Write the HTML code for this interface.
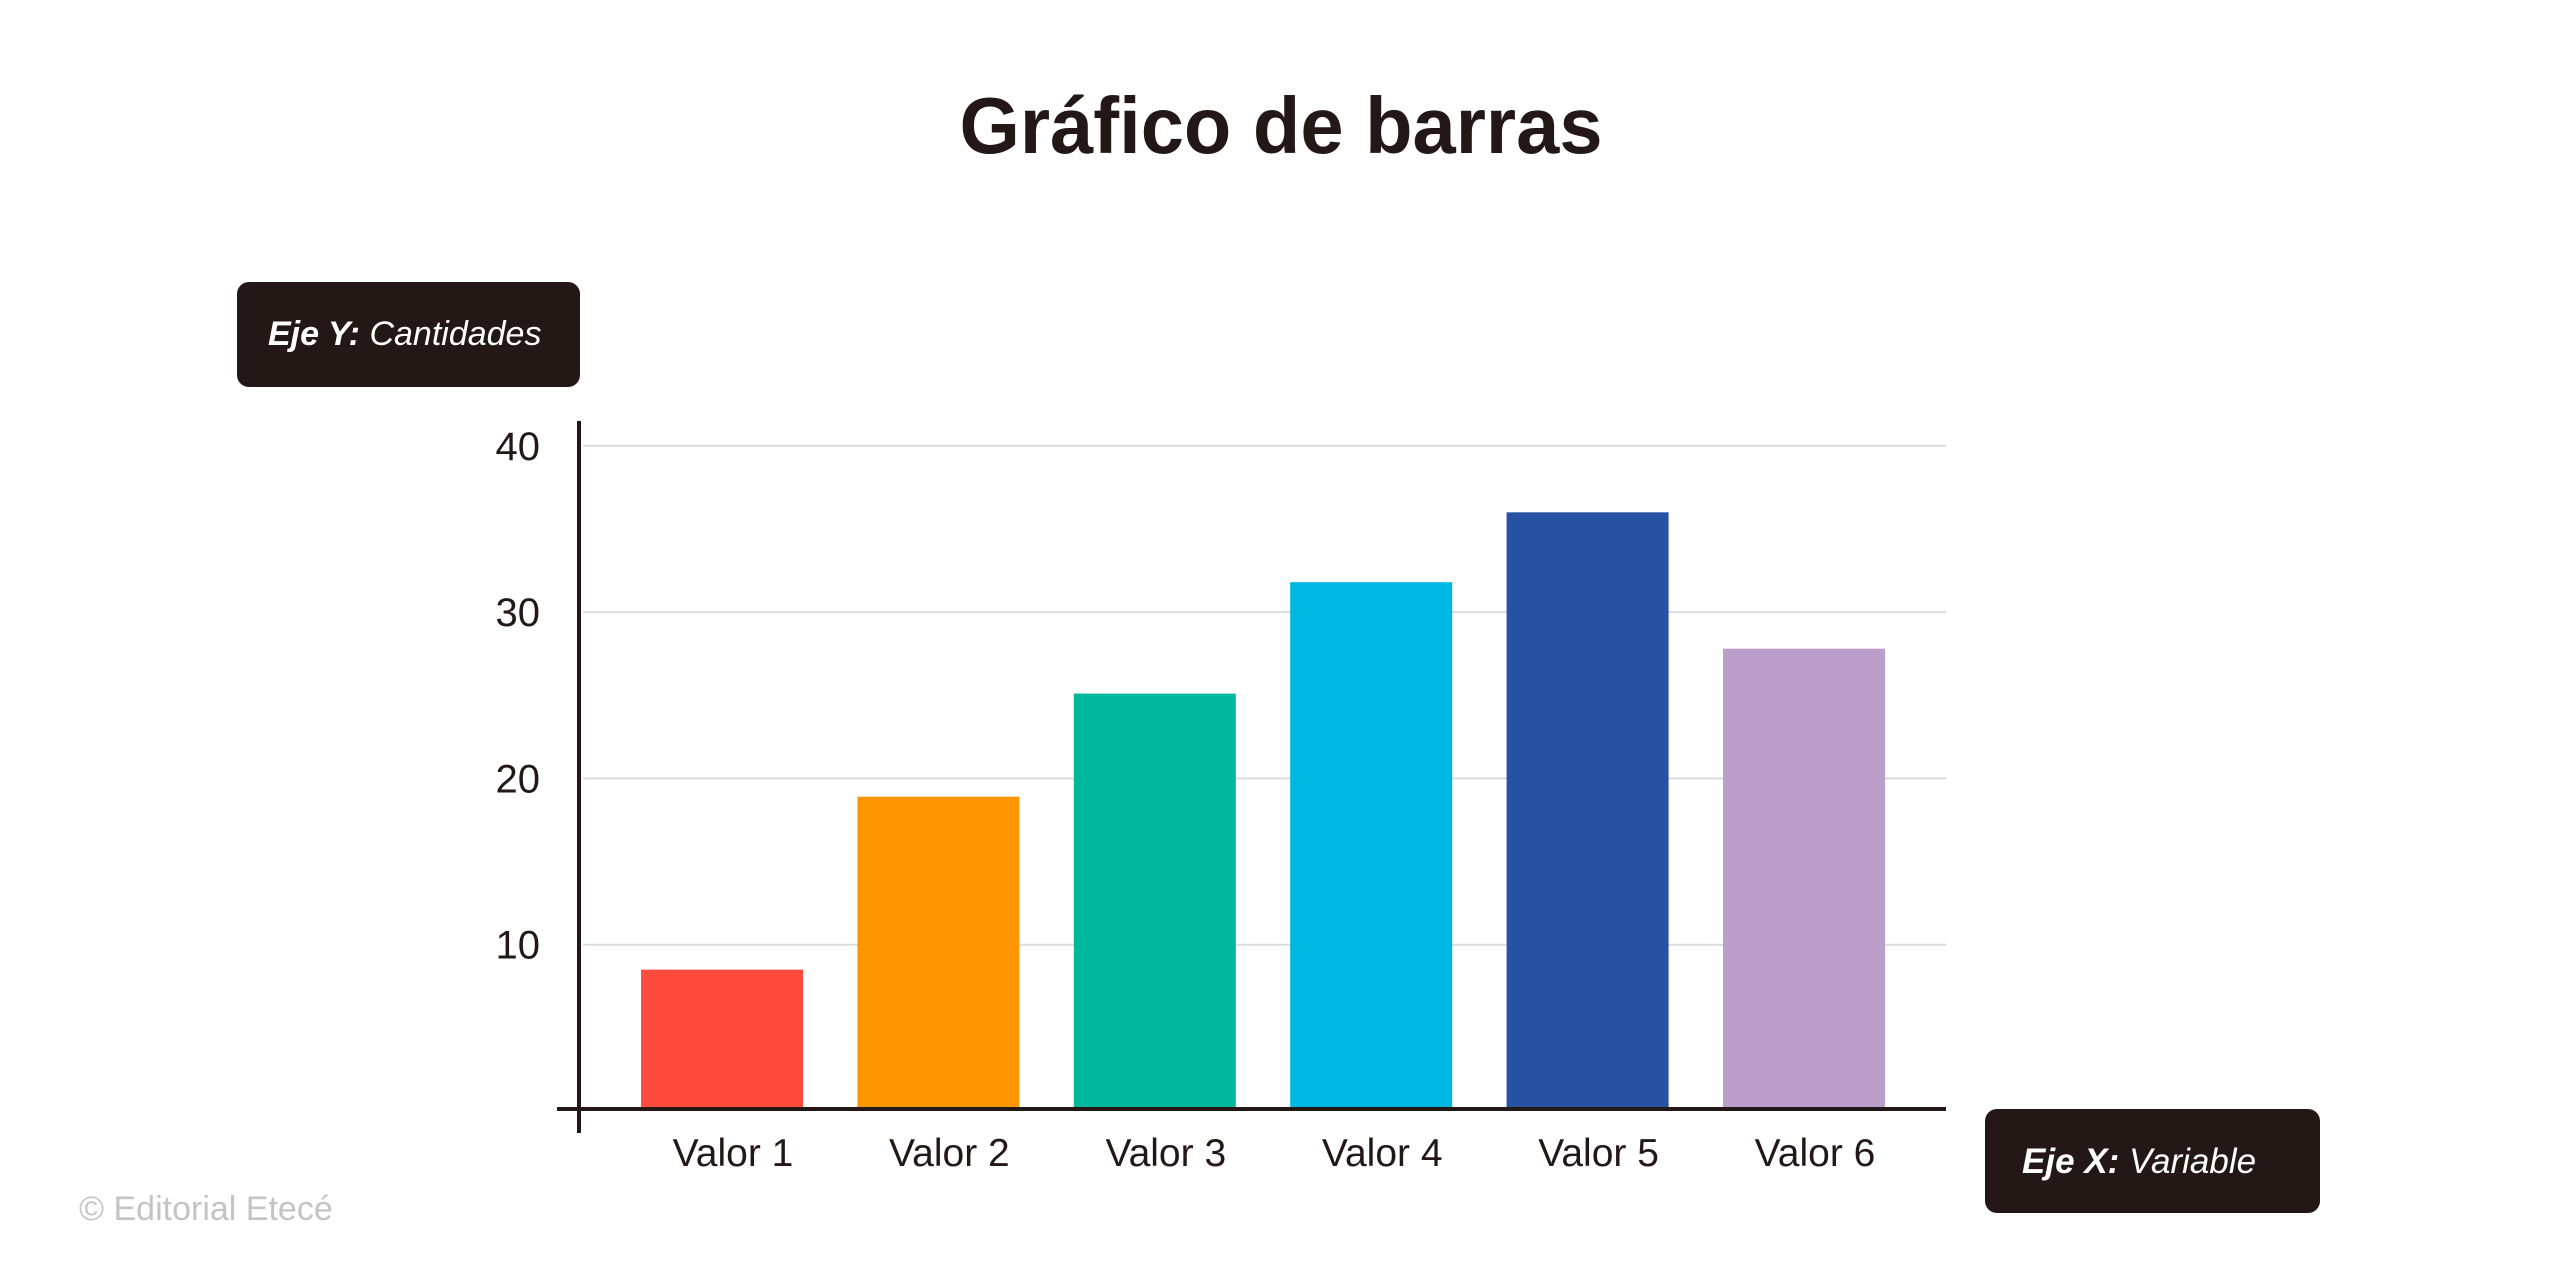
<!DOCTYPE html>
<html><head><meta charset="utf-8"><style>
html,body{margin:0;padding:0;background:#fff}
svg{display:block}
text{font-family:"Liberation Sans",sans-serif}
</style></head><body>
<svg id="chart" width="2560" height="1280" viewBox="0 0 2560 1280">
<text x="1281" y="153" text-anchor="middle" font-size="80" font-weight="bold" fill="#231815" textLength="643" lengthAdjust="spacingAndGlyphs">Gráfico de barras</text>
<g>
<rect x="237" y="282" width="343" height="105" rx="12" fill="#231815"/>
<text x="268" y="345" font-size="34" fill="#fff" font-style="italic"><tspan font-weight="bold">Eje Y:</tspan> Cantidades</text>
</g>
<g>
<rect x="1985" y="1109" width="335" height="104" rx="12" fill="#231815"/>
<text x="2022" y="1173" font-size="35" fill="#fff" font-style="italic"><tspan font-weight="bold">Eje X:</tspan> Variable</text>
</g>
<g id="grid"></g>
<g id="bars"></g>
<g id="labels"></g>
<line x1="557" y1="1109" x2="1946" y2="1109" stroke="#231815" stroke-width="4"/>
<line x1="579" y1="421" x2="579" y2="1133" stroke="#231815" stroke-width="4"/>
<text x="79" y="1220" font-size="34" fill="#c4c4c4">© Editorial Etecé</text>
</svg>
<script>
const categories = ["Valor 1","Valor 2","Valor 3","Valor 4","Valor 5","Valor 6"];
const values = [8.5, 18.9, 25.1, 31.8, 36.0, 27.8];
const colors = ["#ff4b3e","#ff9500","#00b99c","#00b6e2","#2752a3","#bb9fca"];
const yTicks = [10, 20, 30, 40];
const yTickLabels = ["10","20","30","40"];

const NS = "http://www.w3.org/2000/svg";
function y(v){ return 1111 - v * 16.63; }
function x(i){ return 641 + i * 216.4; }
const barW = 162;

const grid = document.getElementById('grid');
yTicks.forEach((t, i) => {
  const l = document.createElementNS(NS, 'line');
  l.setAttribute('x1', 583); l.setAttribute('x2', 1946);
  l.setAttribute('y1', y(t)); l.setAttribute('y2', y(t));
  l.setAttribute('stroke', '#dcdcdc'); l.setAttribute('stroke-width', 2);
  
  
  grid.appendChild(l);
  const tx = document.createElementNS(NS, 'text');
  tx.setAttribute('x', 540); tx.setAttribute('y', y(t) + 14);
  tx.setAttribute('text-anchor', 'end'); tx.setAttribute('font-size', '40');
  tx.setAttribute('fill', '#231815');
  tx.textContent = yTickLabels[i];
  
  
  grid.appendChild(tx);
});

const bars = document.getElementById('bars');
const labels = document.getElementById('labels');
categories.forEach((c, i) => {
  const r = document.createElementNS(NS, 'rect');
  r.setAttribute('x', x(i)); r.setAttribute('width', barW);
  r.setAttribute('y', y(values[i])); r.setAttribute('height', y(0) - y(values[i]));
  r.setAttribute('fill', colors[i]);
  
  
  bars.appendChild(r);
  const t = document.createElementNS(NS, 'text');
  t.setAttribute('x', x(i) + barW / 2 + 11); t.setAttribute('y', 1166);
  t.setAttribute('text-anchor', 'middle'); t.setAttribute('font-size', '39');
  t.setAttribute('fill', '#231815');
  t.textContent = c;
  
  
  labels.appendChild(t);
});
</script>
</body></html>
